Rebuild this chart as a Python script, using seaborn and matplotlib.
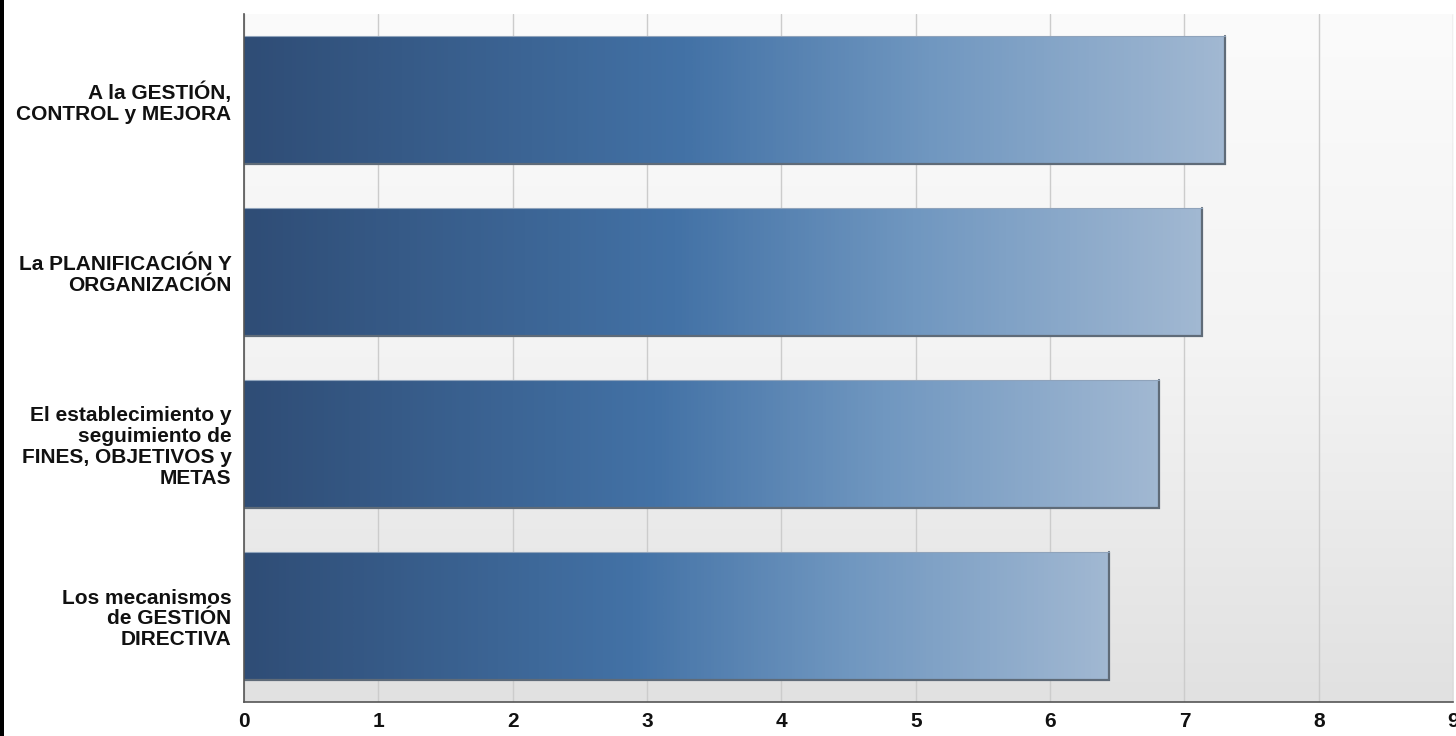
import numpy as np
import seaborn as sns
import pandas as pd
import matplotlib.pyplot as plt
from matplotlib.colors import LinearSegmentedColormap
from matplotlib.patches import Rectangle

categories = ['A la GESTIÓN,\nCONTROL y MEJORA',
              'La PLANIFICACIÓN Y\nORGANIZACIÓN',
              'El establecimiento y\nseguimiento de\nFINES, OBJETIVOS y\nMETAS',
              'Los mecanismos\nde GESTIÓN\nDIRECTIVA']
values = [7.3, 7.13, 6.81, 6.44]
x_ticks = [0, 1, 2, 3, 4, 5, 6, 7, 8, 9]

df = pd.DataFrame({'area': categories, 'valor': values})

sns.set_style('white')
plt.rcParams['font.family'] = ['Liberation Sans', 'DejaVu Sans']

fig = plt.figure(figsize=(14.56, 7.36), dpi=100)
ax = fig.add_axes([0.1676, 0.0462, 0.8304, 0.9348])

sns.barplot(data=df, x='valor', y='area', orient='h', width=0.74,
            color='#4470a3', edgecolor='none', linewidth=0, ax=ax, zorder=3)

ax.set_xlim(0, 9)
ax.set_ylim(3.5, -0.5)

# background: vertical gradient white -> light gray
bg = np.linspace(0, 1, 256).reshape(-1, 1)
bg_cmap = LinearSegmentedColormap.from_list('bg', ['#fbfbfb', '#f3f3f3', '#e1e1e1'])
ax.imshow(bg, cmap=bg_cmap, aspect='auto', extent=(0, 9, 3.5, -0.5),
          zorder=0, interpolation='bicubic')

# bar gradient, dark left -> light right
bar_cmap = LinearSegmentedColormap.from_list(
    'bar', [(0, '#2f4d76'), (0.45, '#4372a6'), (0.7, '#7097c0'), (1, '#a1b8d2')])
grad = np.linspace(0, 1, 256).reshape(1, -1)
for p in ax.patches:
    x0, y0 = p.get_x(), p.get_y()
    w, h = p.get_width(), p.get_height()
    im = ax.imshow(grad, cmap=bar_cmap, aspect='auto',
                   extent=(x0, x0 + w, y0 + h, y0), zorder=3.5,
                   interpolation='bicubic')
    im.set_clip_path(p)
    # soft shadow on the bottom and right edges
    ax.plot([x0, x0 + w, x0 + w], [y0 + h, y0 + h, y0],
            color='#5f6b78', linewidth=1.6, zorder=4, solid_joinstyle='miter')
    ax.plot([x0, x0 + w], [y0, y0], color='#8fa3bb', linewidth=0.8, zorder=4)

ax.set_xticks(x_ticks)
ax.grid(axis='x', color='#cccccc', linewidth=1.0, zorder=1)
ax.set_axisbelow(True)
ax.set_xlabel('')
ax.set_ylabel('')

for s in ['top', 'right']:
    ax.spines[s].set_visible(False)
for s in ['left', 'bottom']:
    ax.spines[s].set_color('#555555')
    ax.spines[s].set_linewidth(1.2)
    ax.spines[s].set_zorder(5)

ax.tick_params(axis='x', length=6, width=1, color='#555555', labelsize=15, pad=1)
ax.tick_params(axis='y', length=6, width=1, color='#555555', labelsize=15, pad=3)
for lab in ax.get_xticklabels():
    lab.set_fontweight('bold')
    lab.set_color('#111111')
for lab in ax.get_yticklabels():
    lab.set_fontweight('bold')
    lab.set_linespacing(1.12)
    lab.set_color('#111111')

# black border on the left edge of the picture
fig.add_artist(Rectangle((0, 0), 0.0025, 1, transform=fig.transFigure,
                         facecolor='black', edgecolor='none'))

fig.savefig('out.png', dpi=100)
